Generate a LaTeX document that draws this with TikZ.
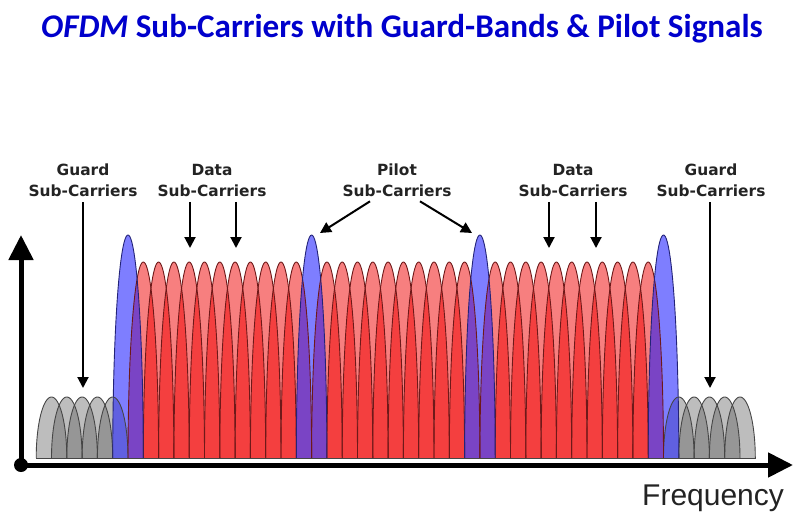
\documentclass[tikz,border=0pt]{standalone}
\usepackage{fontspec}
\setmainfont{Carlito}
\newfontfamily\lblfont{DejaVu Sans}
\newfontfamily\freqfont{Liberation Sans}
\usetikzlibrary{arrows.meta}
\definecolor{titleblue}{RGB}{0,0,204}
\definecolor{lblgray}{RGB}{35,35,35}
\definecolor{redfill}{RGB}{240,0,0}
\definecolor{bluefill}{RGB}{20,20,255}
\definecolor{greyfill}{RGB}{90,90,90}
\definecolor{redline}{RGB}{110,25,25}
\definecolor{blueline}{RGB}{35,35,120}
\definecolor{greyline}{RGB}{70,70,70}
\tikzset{
  lbl/.style={font=\lblfont\bfseries\fontsize{15.4}{21}\selectfont, text=lblgray, align=center, inner sep=0pt, anchor=north},
  sarr/.style={draw=black, line width=2pt, -{Triangle[length=11pt,width=11pt]}},
  axis/.style={draw=black, line width=5pt, -{Triangle[length=25pt,width=24pt]}},
  redlobe/.style={fill=redfill, fill opacity=0.5},
  bluelobe/.style={fill=bluefill, fill opacity=0.55},
  greylobe/.style={fill=greyfill, fill opacity=0.4},
}
\begin{document}
\begin{tikzpicture}[x=1pt,y=-1pt]
\useasboundingbox (0,0) rectangle (808,522);
% title
\node[font=\fontsize{33.1}{40}\selectfont\bfseries, text=titleblue, anchor=base, inner sep=0pt] (title) at (402,37)
  {\textit{OFDM} Sub-Carriers with Guard-Bands \& Pilot Signals};
% lobe fills
\foreach \k in {-5,...,-1,36,37,38,39,40}
  \fill[greylobe] plot[domain=180:0,samples=49] ({128+15.3*\k+15.3*cos(\x)},{458-61*sin(\x)}) -- cycle;
\foreach \k in {1,...,11,13,14,...,22,24,25,...,34}
  \fill[redlobe] plot[domain=180:0,samples=49] ({128+15.3*\k+15.3*cos(\x)},{458-196*sin(\x)}) -- cycle;
\foreach \k in {0,12,23,35}
  \fill[bluelobe] plot[domain=180:0,samples=49] ({128+15.3*\k+15.3*cos(\x)},{458-223*sin(\x)}) -- cycle;
% lobe outlines
\foreach \k in {-5,...,-1,36,37,38,39,40}
  \draw[greyline, line width=0.9pt] plot[domain=180:0,samples=49] ({128+15.3*\k+15.3*cos(\x)},{458-61*sin(\x)});
\foreach \k in {1,...,11,13,14,...,22,24,25,...,34}
  \draw[redline, line width=0.9pt] plot[domain=180:0,samples=49] ({128+15.3*\k+15.3*cos(\x)},{458-196*sin(\x)});
\foreach \k in {0,12,23,35}
  \draw[blueline, line width=0.9pt] plot[domain=180:0,samples=49] ({128+15.3*\k+15.3*cos(\x)},{458-223*sin(\x)});
\draw[greyline, line width=1pt] (36,458) -- (756,458);
% axes
\coordinate (O) at (21,465);
\coordinate (ytip) at (21,235);
\coordinate (xtip) at (793,465);
\draw[axis] (O) -- (ytip);
\draw[axis] (O) -- (xtip);
\fill (O) circle[radius=7pt];
\node[font=\freqfont\fontsize{30}{35}\selectfont, text=lblgray, anchor=base west, inner sep=0pt] (freq) at (642,505) {Frequency};
% labels
\node[lbl] (gL) at (83,164) {Guard\\Sub-Carriers};
\node[lbl] (dL) at (212,164) {Data\\Sub-Carriers};
\node[lbl] (pL) at (397,164) {Pilot\\Sub-Carriers};
\node[lbl] (dR) at (573,164) {Data\\Sub-Carriers};
\node[lbl] (gR) at (711,164) {Guard\\Sub-Carriers};
% arrow targets
\coordinate (gLt) at (83,388);
\coordinate (gRt) at (710,388);
\coordinate (d1) at (190,248);
\coordinate (d2) at (236,248);
\coordinate (d3) at (549,248);
\coordinate (d4) at (596,248);
\coordinate (p1) at (320,233);
\coordinate (p2) at (472,233);
% arrows
\draw[sarr, shorten <=5pt] (gL.south -| gLt) -- (gLt);
\draw[sarr, shorten <=5pt] (gR.south -| gRt) -- (gRt);
\draw[sarr, shorten <=5pt] (dL.south -| d1) -- (d1);
\draw[sarr, shorten <=5pt] (dL.south -| d2) -- (d2);
\draw[sarr, shorten <=5pt] (dR.south -| d3) -- (d3);
\draw[sarr, shorten <=5pt] (dR.south -| d4) -- (d4);
\draw[sarr] ([xshift=-27pt,yshift=-4pt]pL.south) -- (p1);
\draw[sarr] ([xshift=23pt,yshift=-4pt]pL.south) -- (p2);
\end{tikzpicture}
\end{document}
